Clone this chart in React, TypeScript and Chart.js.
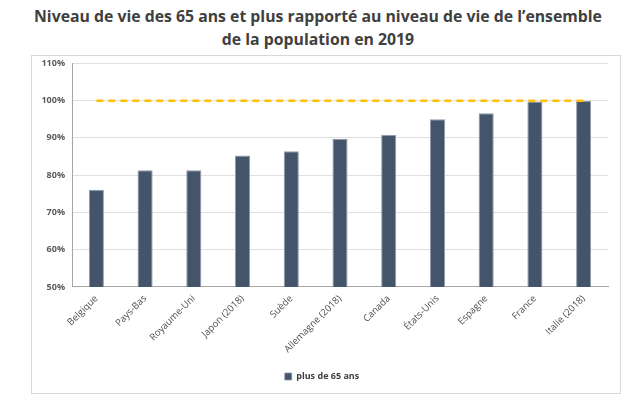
import React, { useEffect, useRef } from "react";
import { Chart, registerables } from "chart.js";

Chart.register(...registerables);

const titleLines = [
  "Niveau de vie des 65 ans et plus rapporté au niveau de vie de l’ensemble",
  "de la population en 2019",
];
const categories = [
  "Belgique",
  "Pays-Bas",
  "Royaume-Uni",
  "Japon (2018)",
  "Suède",
  "Allemagne (2018)",
  "Canada",
  "États-Unis",
  "Espagne",
  "France",
  "Italie (2018)",
];
const seriesName = "plus de 65 ans";
const values = [76.1, 81.3, 81.3, 85.3, 86.4, 89.8, 90.8, 95.0, 96.6, 99.8, 100.0];
const referenceValues = [100, 100, 100, 100, 100, 100, 100, 100, 100, 100, 100];
const yMin = 50;
const yMax = 110;
const yStep = 10;

export default function App() {
  const ref = useRef<HTMLCanvasElement | null>(null);
  useEffect(() => {
    if (!ref.current) return;
    const chart = new Chart(ref.current, {
      type: "bar",
      data: {
        labels: categories,
        datasets: [
          {
            type: "bar",
            label: seriesName,
            data: values,
            backgroundColor: "#44546A",
            borderColor: "#8f9aaa",
            borderWidth: { left: 1, right: 1, top: 1, bottom: 0 },
            barPercentage: 0.31,
            categoryPercentage: 1,
            order: 2,
          },
          {
            type: "line",
            label: "référence",
            data: referenceValues,
            borderColor: "#FFC000",
            borderWidth: 2.5,
            borderDash: [7, 5],
            pointRadius: 0,
            fill: false,
            order: 1,
          },
        ],
      },
      options: {
        animation: false,
        responsive: false,
        layout: { padding: { left: 4, right: 12, top: 2, bottom: 2 } },
        plugins: {
          title: { display: false },
          tooltip: { enabled: false },
          legend: {
            position: "bottom",
            labels: {
              filter: (item) => item.datasetIndex === 0,
              boxWidth: 7,
              boxHeight: 7,
              color: "#404040",
              font: { family: "Open Sans", size: 9, weight: "bold" },
              padding: 10,
            },
          },
        },
        scales: {
          x: {
            grid: { display: false, drawTicks: false },
            border: { display: true, color: "#a6a6a6", width: 1 },
            ticks: {
              color: "#505050",
              font: { family: "Open Sans", size: 9.5 },
              maxRotation: 45,
              minRotation: 45,
              padding: 6,
            },
            afterFit: (scale) => {
              scale.height = scale.height + 1;
            },
          },
          y: {
            min: yMin,
            max: yMax,
            grid: { color: "#e0e0e0", drawTicks: false, lineWidth: 1 },
            border: { display: true, color: "#a6a6a6", width: 1 },
            ticks: {
              stepSize: yStep,
              color: "#595959",
              font: { family: "Open Sans", size: 9, weight: "bold" },
              padding: 7,
              callback: (v) => v + "%",
            },
            afterFit: (scale) => {
              scale.width = 36;
            },
          },
        },
      },
    });
    return () => chart.destroy();
  }, []);

  return (
    <div
      style={{
        position: "fixed",
        left: 0,
        top: 0,
        width: 636,
        height: 398,
        background: "#ffffff",
        overflow: "hidden",
      }}
    >
      <div
        style={{
          position: "absolute",
          left: 0,
          top: 5,
          width: 636,
          textAlign: "center",
          fontFamily: "Open Sans",
          fontWeight: 700,
          fontSize: 15.8,
          lineHeight: "23px",
          color: "#404040",
        }}
      >
        {titleLines.map((t, i) => (
          <div key={i}>{t}</div>
        ))}
      </div>
      <canvas
        ref={ref}
        width={588}
        height={342}
        style={{ display: "block", position: "absolute", left: 32, top: 51 }}
      />
      <div
        style={{
          position: "absolute",
          left: 31,
          top: 55,
          width: 588,
          height: 337,
          border: "1px solid #d9d9d9",
          pointerEvents: "none",
        }}
      />
    </div>
  );
}
